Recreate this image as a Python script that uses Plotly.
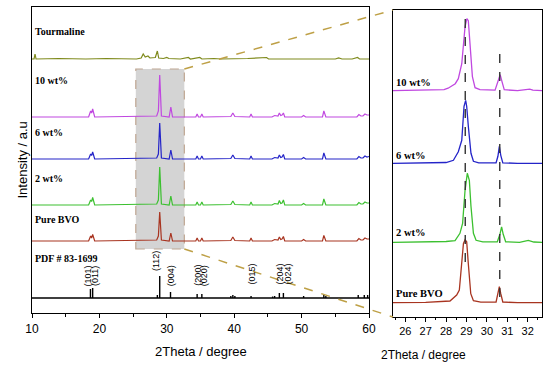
import plotly.graph_objects as go

W, H = 550, 368

# ---------------- data ----------------
SERIES = ["Tourmaline", "10 wt%", "6 wt%", "2 wt%", "Pure BVO"]

# Left panel: full patterns (2Theta, intensity a.u.)
LEFT_X = [10, 18.4, 18.7, 18.85, 19.0, 19.3, 28.5, 28.75, 28.95, 29.2, 30.35, 30.6, 30.85,
          34.3, 34.5, 34.7, 35.0, 35.2, 35.4, 39.5, 39.8, 40.1, 42.3, 42.5, 42.7,
          45.6, 46.0, 46.5, 46.7, 46.9, 47.1, 47.3, 47.5, 50.0, 50.3, 50.6,
          53.1, 53.3, 53.6, 58.2, 58.5, 58.8, 59.1, 59.4, 59.7, 60]
I_10 = [0, 0, 6, 4, 8, 0, 1, 6, 42, 1, 0, 10, 0, 0, 3, 0, 0, 3, 0, 0.5, 4, 0.5, 0, 3, 0,
        0, 1.5, 1, 4, 1.5, 2, 4, 0, 0, 1.5, 0, 0, 6, 0, 0, 2.5, 1, 1, 3, 2, 2]
I_6 = [0, 0, 5, 3.5, 7, 0, 1, 5, 36, 1, 0, 9, 0, 0, 3, 0, 0, 3, 0, 0.5, 4, 0.5, 0, 3, 0,
       0, 1.5, 1, 4, 1.5, 2, 4.5, 0, 0, 1.5, 0, 0, 6, 0, 0, 2.5, 1, 1, 3, 2, 2.5]
I_2 = [0, 0, 5, 3.5, 7.5, 0, 1, 5, 38, 1, 0, 9, 0, 0, 3, 0, 0, 3, 0, 0.5, 4, 0.5, 0, 3, 0,
       0, 1.5, 1, 4.5, 1.5, 2, 5, 0, 0, 1.5, 0, 0, 6, 0, 0, 2.5, 1, 1, 3, 2, 2]
I_PURE = [0, 0, 5, 3, 6.5, 0, 1, 5, 29, 1, 0, 8, 0, 0, 3, 0, 0, 3, 0, 0.5, 4, 0.5, 0, 3, 0,
          0, 1.5, 1, 4, 1.5, 2, 4.5, 0, 0, 1.5, 0, 0, 5.5, 0, 0, 2.5, 1, 1, 3, 2, 2]

TOUR_X = [10, 10.3, 10.45, 10.6, 14, 18, 21, 25.5, 26.2, 26.5, 26.8, 27.2, 27.5, 28.0, 28.3,
          28.6, 28.8, 29.5, 30.0, 30.3, 32, 33.2, 33.5, 34.9, 35.2, 37, 38, 42, 44.8, 45.1,
          48, 51, 55, 55.5, 56, 57.5, 58.3, 58.6, 60]
TOUR_I = [0, 0, 5, 0, 0.5, 0, 0.5, 0, 1, 5, 2, 3, 1, 1, 1.5,
          8, 1, 0.5, 1.5, 0.5, 0, 1.5, 0, 1.5, 0, 0.5, 0, 0.5, 1.5, 0,
          0, 0.5, 0, 1, 0, 0, 1.5, 0, 0]

# Reference card PDF # 83-1699 (stick positions / heights)
PDF_X = [18.67, 19.0, 28.6, 28.95, 30.55, 34.5, 35.2, 39.5, 39.8, 40.1, 42.5, 45.7, 46.0,
         46.7, 47.3, 50.3, 53.3, 53.6, 58.4, 59.3, 59.8]
PDF_I = [9, 10, 3, 22, 6, 4, 4, 2, 3, 2, 2, 1.5, 2, 5, 5, 2, 4, 2, 3, 3, 3]
HKL = ["(101)", "(011)", "(112)", "(004)", "(200)", "(020)", "(015)", "(204)", "(024)"]

# Right panel: zoomed profiles 25.4-32.7
Z10_X = [25.4, 27.0, 27.9, 28.1, 28.45, 28.6, 28.77, 28.93, 29.02, 29.09, 29.17, 29.29, 29.42,
         29.66, 30.4, 30.52, 30.65, 30.74, 30.85, 31.5, 32.0, 32.1, 32.25, 32.7]
Z10_I = [0, 0.5, 1, 2.5, 7, 12, 27, 64, 72, 70, 47, 14, 3,
         1, 0.5, 7, 16, 9, 1, 0, 1, 1.5, 0.5, 0]
Z6_X = [25.4, 27.0, 28.0, 28.36, 28.6, 28.77, 28.88, 28.96, 29.01, 29.09, 29.22, 29.34, 29.6,
        30.45, 30.54, 30.61, 30.68, 30.78, 31.5, 32.7]
Z6_I = [0, 0.3, 0.8, 3, 11.5, 23, 57, 63, 57, 37, 10, 2, 0.5,
        0.5, 7, 17, 8, 0.5, 0, 0]
Z2_X = [25.4, 27.0, 28.0, 28.44, 28.68, 28.81, 28.93, 29.04, 29.14, 29.22, 29.34, 29.47, 29.8,
        30.51, 30.64, 30.72, 30.8, 30.92, 31.6, 32.03, 32.3, 32.7]
Z2_I = [0, 0.3, 0.8, 1.7, 9, 19, 52, 69, 62, 36, 9, 2, 0.5,
        0.5, 8, 15.5, 8, 0.5, 0, 2, 0.3, 0]
ZP_X = [25.4, 27.0, 28.19, 28.52, 28.65, 28.76, 28.85, 28.93, 29.01, 29.09, 29.21, 29.34, 29.7,
        30.45, 30.54, 30.61, 30.68, 30.78, 31.5, 32.7]
ZP_I = [0, 0.3, 1.7, 7.7, 12.7, 36, 59, 63, 61, 39, 9, 2, 0.5,
        0.7, 9, 16, 9, 0.7, 0, 0]
REF_PEAKS = [28.94, 30.63]

# ---------------- layout / style ----------------
COLORS = {"Tourmaline": "#7f8a1c", "10 wt%": "#c048e0", "6 wt%": "#2424c8",
          "2 wt%": "#3cc030", "Pure BVO": "#a83420"}
LEFT_OFF = {"Tourmaline": 254, "10 wt%": 196, "6 wt%": 154, "2 wt%": 108, "Pure BVO": 72}
PDF_OFF = 15
RIGHT_OFF = {"10 wt%": 226.3, "6 wt%": 153.7, "2 wt%": 74.7, "Pure BVO": 14.3}

XR1, YR1 = [10, 60], [0, 306]
XR2, YR2 = [25.4, 32.7], [0, 307]
XD1, YD1 = [32 / W, 369 / W], [1 - 313 / H, 1 - 7 / H]
XD2, YD2 = [393 / W, 542 / W], [1 - 317 / H, 1 - 10 / H]
BOX = dict(x0=25.4, x1=32.6, y0=64, y1=244)

SERIF = "Liberation Serif"
SANS = "Liberation Sans"

fig = go.Figure()

left_data = {"Tourmaline": (TOUR_X, TOUR_I), "10 wt%": (LEFT_X, I_10), "6 wt%": (LEFT_X, I_6),
             "2 wt%": (LEFT_X, I_2), "Pure BVO": (LEFT_X, I_PURE)}
for name in SERIES:
    xs, ys = left_data[name]
    fig.add_trace(go.Scatter(x=xs, y=[v + LEFT_OFF[name] for v in ys], mode="lines",
                             line=dict(color=COLORS[name], width=1.2), xaxis="x", yaxis="y",
                             hoverinfo="skip"))

# PDF sticks + baseline as one path
px_, py_ = [XR1[0]], [PDF_OFF]
for xv, iv in zip(PDF_X, PDF_I):
    px_ += [xv, xv, xv]
    py_ += [PDF_OFF, PDF_OFF + iv, PDF_OFF]
px_.append(XR1[1]); py_.append(PDF_OFF)
fig.add_trace(go.Scatter(x=px_, y=py_, mode="lines", line=dict(color="black", width=1.4),
                         xaxis="x", yaxis="y", hoverinfo="skip"))

right_data = {"10 wt%": (Z10_X, Z10_I), "6 wt%": (Z6_X, Z6_I), "2 wt%": (Z2_X, Z2_I),
              "Pure BVO": (ZP_X, ZP_I)}
for name in ["10 wt%", "6 wt%", "2 wt%", "Pure BVO"]:
    xs, ys = right_data[name]
    fig.add_trace(go.Scatter(x=xs, y=[v + RIGHT_OFF[name] for v in ys], mode="lines",
                             line=dict(color=COLORS[name], width=1.3), xaxis="x2", yaxis="y2",
                             hoverinfo="skip"))

shapes = []
shapes.append(dict(type="rect", xref="x", yref="y", **BOX, fillcolor="#d4d4d4",
                   line=dict(color="rgb(190,165,145)", width=1.2, dash="dash"), layer="below"))


def paper_x(v, dom, rng):
    return dom[0] + (v - rng[0]) / (rng[1] - rng[0]) * (dom[1] - dom[0])


def paper_y(v, dom, rng):
    return dom[0] + (v - rng[0]) / (rng[1] - rng[0]) * (dom[1] - dom[0])


bx = paper_x(BOX["x1"], XD1, XR1)
shapes.append(dict(type="line", xref="paper", yref="paper", x0=bx, y0=paper_y(BOX["y1"], YD1, YR1),
                   x1=XD2[0], y1=YD2[1], line=dict(color="rgb(190,160,70)", width=1.5, dash="dash")))
shapes.append(dict(type="line", xref="paper", yref="paper", x0=bx, y0=paper_y(BOX["y0"], YD1, YR1),
                   x1=XD2[0], y1=YD2[0], line=dict(color="rgb(190,160,70)", width=1.5, dash="dash")))
ref_ext = [(55, 302), (20, 265)]
for xv, (y0, y1) in zip(REF_PEAKS, ref_ext):
    shapes.append(dict(type="line", xref="x2", yref="y2", x0=xv, x1=xv, y0=y0, y1=y1,
                       line=dict(color="#333333", width=1.4, dash="dash")))

BOLD_SERIF_L = dict(family=SERIF, size=10, color="black", weight="bold")
BOLD_SERIF_R = dict(family=SERIF, size=10.5, color="black", weight="bold")

ann = []
left_lab_y = {"Tourmaline": 281.5, "10 wt%": 233, "6 wt%": 181, "2 wt%": 135, "Pure BVO": 94}
for name in SERIES:
    ann.append(dict(x=10.15, y=left_lab_y[name], xref="x", yref="y", text=name, showarrow=False,
                    xanchor="left", yanchor="middle", font=BOLD_SERIF_L))
ann.append(dict(x=10.15, y=55, xref="x", yref="y", text="PDF # 83-1699", showarrow=False,
                xanchor="left", yanchor="middle", font=BOLD_SERIF_L))
right_lab_y = {"10 wt%": 235, "6 wt%": 162, "2 wt%": 85, "Pure BVO": 24}
for name, yv in right_lab_y.items():
    ann.append(dict(x=25.47, y=yv, xref="x2", yref="y2", text=name, showarrow=False,
                    xanchor="left", yanchor="middle", font=BOLD_SERIF_R))

HKL_X = [18.3, 19.35, 28.4, 30.6, 34.5, 35.5, 42.5, 46.65, 47.85]
HKL_Y = [25, 25, 40, 25, 25, 25, 26, 26, 26]
for t, xv, yv in zip(HKL, HKL_X, HKL_Y):
    ann.append(dict(x=xv, y=yv, xref="x", yref="y", text=t, showarrow=False, textangle=-90,
                    xanchor="center", yanchor="bottom", font=dict(family=SANS, size=9, color="black")))

ann.append(dict(x=13 / W, y=1 - 160 / H, xref="paper", yref="paper", text="Intensity / a.u",
                showarrow=False, textangle=-90, font=dict(family=SANS, size=13, color="black")))
# axis titles
ann.append(dict(x=(XD1[0] + XD1[1]) / 2, y=1 - 351 / H, xref="paper", yref="paper",
                text="2Theta / degree", showarrow=False, yanchor="middle",
                font=dict(family=SANS, size=13, color="black")))
ann.append(dict(x=(XD2[0] + XD2[1]) / 2, y=1 - 355 / H, xref="paper", yref="paper",
                text="2Theta / degree", showarrow=False, yanchor="middle",
                font=dict(family=SANS, size=12, color="black")))

axis_common = dict(showgrid=False, zeroline=False, showline=True, mirror=True,
                   linecolor="black", linewidth=1.3, automargin=False)

fig.update_layout(
    width=W, height=H, margin=dict(l=0, r=0, t=0, b=0, pad=0, autoexpand=False),
    plot_bgcolor="white", paper_bgcolor="white", showlegend=False,
    shapes=shapes, annotations=ann,
    xaxis=dict(domain=XD1, range=XR1, anchor="y", dtick=10, ticks="outside", ticklen=4,
               tickcolor="black", tickfont=dict(family=SANS, size=12, color="black"),
               minor=dict(dtick=5, ticks="outside", ticklen=2.5, tickcolor="black"),
               **axis_common),
    yaxis=dict(domain=YD1, range=YR1, anchor="x", showticklabels=False, ticks="", **axis_common),
    xaxis2=dict(domain=XD2, range=XR2, anchor="y2", dtick=1, ticks="outside", ticklen=4,
                tickcolor="black", tickfont=dict(family=SANS, size=11, color="black"),
                minor=dict(dtick=0.5, ticks="outside", ticklen=2, tickcolor="black"),
                **axis_common),
    yaxis2=dict(domain=YD2, range=YR2, anchor="x2", showticklabels=False, ticks="", **axis_common),
)

fig.write_html("out.html", config={"displayModeBar": False},
               post_script="document.body.style.margin='0';"
               "document.body.style.overflow='hidden';")
